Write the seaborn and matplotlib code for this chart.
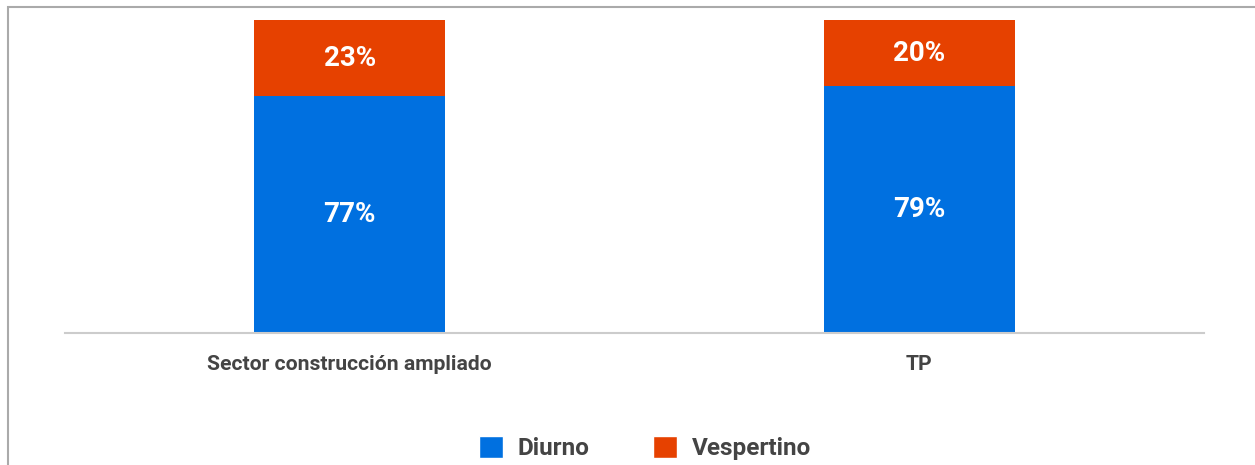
import pandas as pd
import seaborn as sns
import matplotlib.pyplot as plt
from matplotlib.patches import Patch, Rectangle

# categories and shares (bar heights, labels as printed)
categorias = ["Sector construcción ampliado", "TP"]
diurno = [75.7, 78.9]
vespertino = [24.3, 21.1]
etiquetas_diurno = ["77%", "79%"]
etiquetas_vespertino = ["23%", "20%"]

azul = "#0070E0"
naranja = "#E64100"
gris_texto = "#444444"

data = pd.DataFrame({"categoria": categorias, "diurno": diurno, "vespertino": vespertino})
data["total"] = data["diurno"] + data["vespertino"]

sns.set_theme(style="white")
plt.rcParams['font.family'] = ['Roboto', 'DejaVu Sans']

fig = plt.figure(figsize=(12.55, 4.65), dpi=100)
ax = fig.add_axes([65 / 1255, 1 - 333 / 465, (1204 - 65) / 1255, (333 - 20) / 465])

# stacked bars: total in orange, diurno on top of it in blue
sns.barplot(data=data, x="categoria", y="total", color=naranja, width=0.336,
            saturation=1, linewidth=0, ax=ax)
sns.barplot(data=data, x="categoria", y="diurno", color=azul, width=0.336,
            saturation=1, linewidth=0, ax=ax)

ax.set_ylim(0, 100)
ax.set_xlim(-0.5, 1.5)
ax.set_xlabel("")
ax.set_ylabel("")
ax.set_yticks([])
ax.tick_params(axis="x", length=0, pad=16)
for lbl in ax.get_xticklabels():
    lbl.set_fontsize(15.2)
    lbl.set_fontweight("bold")
    lbl.set_color(gris_texto)
for s in ["top", "right", "left"]:
    ax.spines[s].set_visible(False)
ax.spines["bottom"].set_color("#cccccc")
ax.spines["bottom"].set_linewidth(1.5)

# value labels
for i in range(len(categorias)):
    ax.text(i, diurno[i] / 2, etiquetas_diurno[i], ha="center", va="center",
            color="white", fontsize=20, fontweight="bold")
    ax.text(i, diurno[i] + vespertino[i] / 2, etiquetas_vespertino[i], ha="center",
            va="center", color="white", fontsize=20, fontweight="bold")

handles = [Patch(facecolor=azul, label="Diurno"), Patch(facecolor=naranja, label="Vespertino")]
leg = fig.legend(handles=handles, loc="center", bbox_to_anchor=(645 / 1255, 1 - 448 / 465), ncol=2,
                 frameon=False, handlelength=1.0, handleheight=1.0, handletextpad=0.6,
                 columnspacing=2.6, prop={"size": 17.5, "weight": "bold"})
for t in leg.get_texts():
    t.set_color(gris_texto)

# outer frame
fig.patches.append(Rectangle((7.5 / 1255, -0.1), 1.2, 1 - 7.5 / 465 + 0.1, transform=fig.transFigure,
                             fill=False, edgecolor="#aaaaaa", linewidth=1.5))

fig.savefig("out.png", dpi=100)
